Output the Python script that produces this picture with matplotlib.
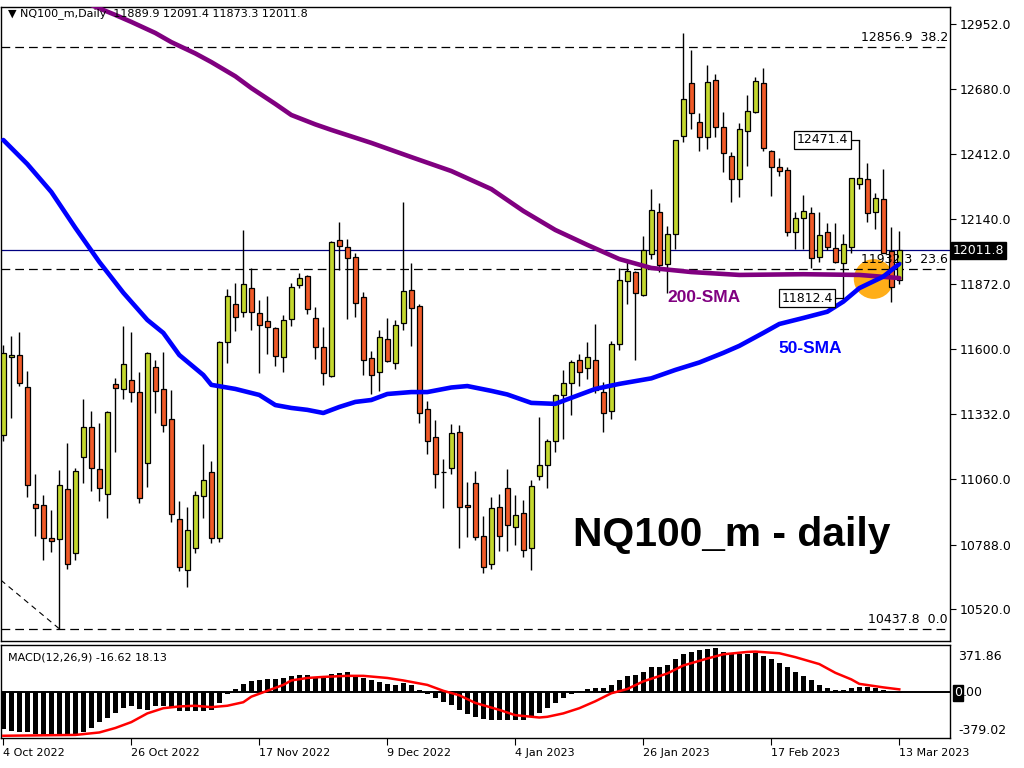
import matplotlib
matplotlib.use('Agg')
import matplotlib.pyplot as plt
from matplotlib.transforms import blended_transform_factory

W, H = 1024, 768

# daily OHLC, 4 Oct 2022 .. 13 Mar 2023 (one entry per bar)
opens = [11244, 11567, 11576, 11442, 10957, 10951, 10814, 10810, 11018, 10752,
         11151, 11276, 11101, 10997, 11454, 11434, 11471, 11422, 11126, 11525,
         11434, 11309, 10896, 10681, 10773, 10989, 11089, 10814, 11629, 11787,
         11754, 11854, 11750, 11716, 11687, 11567, 11725, 11866, 11903, 11729,
         11608, 11490, 12053, 12024, 11982, 11816, 11565, 11507, 11642, 11542,
         11708, 11845, 11779, 11351, 11234, 11089, 11105, 11255, 10954, 11043,
         10822, 10706, 10944, 11025, 10862, 10920, 10773, 11075, 11117, 11218,
         11408, 11459, 11557, 11520, 11555, 11423, 11345, 11622, 11885, 11921,
         11827, 11998, 12170, 11953, 12078, 12488, 12706, 12546, 12484, 12719,
         12523, 12404, 12307, 12509, 12585, 12706, 12424, 12357, 12345, 12089,
         12145, 12165, 11982, 12086, 12020, 11957, 12024, 12286, 12307, 12169,
         12224, 12007, 11889.9]
highs = [11618, 11655, 11671, 11510, 11082, 10994, 10932, 11098, 11209, 11107,
         11392, 11345, 11292, 11345, 11479, 11697, 11671, 11504, 11590, 11554,
         11588, 11431, 10969, 10944, 11009, 11206, 11136, 11635, 11851, 11874,
         12096, 11937, 11805, 11822, 11693, 11743, 11874, 11917, 11909, 11776,
         11693, 12050, 12128, 12058, 11999, 11837, 11593, 11680, 11730, 11720,
         12214, 11959, 11787, 11385, 11306, 11144, 11289, 11285, 11048, 11092,
         10907, 10986, 11000, 11102, 10993, 10974, 11055, 11318, 11226, 11416,
         11512, 11557, 11582, 11631, 11706, 11464, 11634, 11938, 11968, 11927,
         12069, 12265, 12210, 12114, 12472, 12915, 12844, 12581, 12782, 12743,
         12585, 12419, 12539, 12657, 12731, 12768, 12430, 12394, 12359, 12169,
         12241, 12193, 12169, 12124, 12124, 12078, 12311, 12471.4, 12376, 12251,
         12348, 12108, 12091.4]
lows = [11220, 11313, 11449, 10987, 10825, 10723, 10759, 10437.8, 10685, 10724,
        11043, 11012, 10971, 10900, 11174, 11395, 11382, 10960, 11029, 11336,
        11257, 10881, 10680, 10611, 10754, 10900, 10793, 10800, 11544, 11677,
        11735, 11682, 11503, 11582, 11532, 11507, 11698, 11856, 11748, 11561,
        11453, 11485, 11931, 11727, 11735, 11493, 11414, 11427, 11548, 11519,
        11682, 11615, 11295, 11166, 11025, 10939, 11080, 10773, 10818, 10807,
        10669, 10688, 10763, 10763, 10788, 10736, 10681, 11055, 11025, 11174,
        11226, 11325, 11449, 11475, 11419, 11256, 11312, 11597, 11787, 11557,
        11823, 11976, 11921, 11832, 12016, 12463, 12517, 12424, 12433, 12484,
        12336, 12211, 12234, 12363, 12581, 12425, 12238, 12322, 12072, 12017,
        12017, 11937, 11963, 12013, 11957, 11812.4, 11999, 12266, 12130, 12100,
        11999, 11797, 11873.3]
closes = [11583, 11576, 11459, 11035, 10939, 10814, 10802, 11035, 10706, 11093,
          11278, 11105, 11022, 11339, 11438, 11538, 11421, 10981, 11583, 11427,
          11284, 10915, 10696, 10848, 10993, 11055, 10814, 11629, 11822, 11733,
          11870, 11754, 11700, 11691, 11571, 11720, 11858, 11895, 11766, 11608,
          11500, 12045, 12028, 11978, 11791, 11554, 11492, 11650, 11553, 11700,
          11841, 11773, 11334, 11217, 11080, 11088, 11251, 10943, 10944, 10818,
          10695, 10941, 10822, 10870, 10910, 10766, 11033, 11117, 11218, 11408,
          11459, 11545, 11505, 11568, 11431, 11337, 11622, 11886, 11927, 11832,
          12013, 12177, 11950, 12078, 12468, 12639, 12581, 12481, 12710, 12525,
          12417, 12307, 12515, 12591, 12715, 12436, 12357, 12342, 12089, 12145,
          12175, 11978, 12075, 12024, 11964, 12036, 12311, 12311, 12165, 12228,
          12002, 11860, 12011.8]

# moving averages (bar index, value)
sma50_bars = [0, 3, 6, 9, 12, 15, 18, 20, 22, 25, 26, 29, 32, 34, 36, 38, 40, 42,
              44, 46, 48, 51, 53, 56, 58, 61, 63, 66, 69, 71, 74, 77, 81, 84, 87,
              90, 92, 95, 97, 100, 103, 105, 107, 110, 112]
sma50_vals = [12470, 12370, 12254, 12105, 11963, 11835, 11722, 11668, 11576, 11493,
              11452, 11435, 11410, 11368, 11356, 11348, 11335, 11360, 11381, 11389,
              11414, 11422, 11422, 11441, 11447, 11427, 11412, 11377, 11373, 11398,
              11435, 11456, 11479, 11514, 11545, 11585, 11614, 11668, 11705, 11730,
              11756, 11798, 11854, 11902, 11955]
sma200_bars = [9, 11, 14, 16, 19, 21, 24, 26, 29, 31, 34, 36, 39, 41, 46, 51, 56,
               61, 65, 69, 73, 77, 81, 86, 92, 100, 107, 112]
sma200_vals = [13080, 13031, 12990, 12961, 12915, 12877, 12830, 12794, 12735, 12686,
               12620, 12574, 12535, 12512, 12458, 12399, 12341, 12266, 12175, 12096,
               12034, 11975, 11938, 11921, 11909, 11912, 11909, 11896]

# MACD(12,26,9): main line drawn as histogram, signal as red line
macd_hist = [-318, -333, -342, -348, -363, -372, -379, -379.02, -376, -369,
             -348, -309, -260, -221, -179, -144, -127, -147, -156, -127,
             -121, -142, -162, -165, -162, -165, -156, -97, -23, 21,
             65, 86, 100, 103, 103, 116, 133, 144, 144, 124,
             133, 151, 156, 162, 144, 116, 95, 79, 62, 56,
             70, 51, 14, -18, -53, -91, -112, -156, -191, -216,
             -233, -239, -239, -239, -244, -239, -209, -179, -142, -97,
             -53, -18, 6, 21, 26, 26, 56, 95, 133, 139,
             168, 204, 212, 227, 272, 321, 339, 351, 360, 371.86,
             339, 321, 321, 321, 330, 300, 272, 242, 204, 168,
             133, 95, 56, 26, 14, 14, 26, 35, 35, 26,
             14, -9, -16.62]
signal_bars = [0, 9, 12, 14, 16, 18, 20, 22, 24, 26, 28, 30, 31, 33, 35, 36, 38, 40,
               43, 45, 48, 50, 53, 55, 57, 59, 62, 64, 67, 68, 70, 72, 74, 76, 78,
               80, 83, 85, 88, 90, 93, 94, 97, 99, 102, 104, 106, 107, 110, 112]
signal_vals = [-376, -369, -348, -310, -260, -186, -142, -127, -121, -133, -121, -91,
               -44, 6, 56, 94, 115, 124, 133, 133, 115, 94, 56, 6, -32, -97, -156,
               -201, -221, -215, -186, -142, -83, -15, 21, 86, 153, 221, 280, 316,
               336, 339, 325, 292, 233, 159, 103, 65, 35, 18.13]

date_ticks = [0, 16, 32, 48, 64, 80, 96, 112]
date_labels = ['4 Oct 2022', '26 Oct 2022', '17 Nov 2022', '9 Dec 2022',
               '4 Jan 2023', '26 Jan 2023', '17 Feb 2023', '13 Mar 2023']
price_ticks = [10520, 10788, 11060, 11332, 11600, 11872, 12140, 12412, 12680, 12952]

fib_levels = [12856.9, 11932.3, 10437.8]
fib_labels = ['12856.9  38.2', '11932.3  23.6', '10437.8  0.0']
fib_trend_x = [-0.3, 7]
fib_trend_y = [10640, 10437.8]

last_price = 12011.8
swing_high = (107, 12471.4)
swing_low = (105, 11812.4)
cross_point = (108.8, 11892)

BULL = '#C4D82E'
BEAR = '#F05A28'

fig = plt.figure(figsize=(W / 100, H / 100), dpi=100)
fig.patch.set_facecolor('white')
ax = fig.add_axes([1 / W, 1 - 641 / H, 949 / W, 634 / H])
ax2 = fig.add_axes([1 / W, 1 - 738 / H, 949 / W, 93 / H])

xlim = (-0.29, 118.34)

# --- price pane -------------------------------------------------------------
idx = list(range(len(opens)))
bottoms = [min(o, c) for o, c in zip(opens, closes)]
heights = [max(abs(c - o), 3) for o, c in zip(opens, closes)]
colors = [BULL if c >= o else BEAR for o, c in zip(opens, closes)]

ax.scatter([cross_point[0]], [cross_point[1]], s=820, color='#FFA500', alpha=0.9,
           edgecolors='none', zorder=1)
for lvl in fib_levels:
    ax.axhline(lvl, color='black', lw=0.9, dashes=(7, 4), zorder=2)
ax.plot(fib_trend_x, fib_trend_y, color='black', lw=0.8, dashes=(5, 4), zorder=2)
ax.axhline(last_price, color='#000080', lw=0.9, zorder=2)

ax.vlines(idx, lows, highs, color='black', lw=1.0, zorder=3)
ax.bar(idx, heights, bottom=bottoms, width=0.62, color=colors,
       edgecolor='black', linewidth=0.9, zorder=4)

ax.plot(sma200_bars, sma200_vals, color='#800080', lw=3.3, zorder=5,
        solid_capstyle='round', solid_joinstyle='round')
ax.plot(sma50_bars, sma50_vals, color='#0000FF', lw=3.3, zorder=6,
        solid_capstyle='round', solid_joinstyle='round')

ax.set_xlim(*xlim)
ax.set_ylim(10387, 13023)
ax.tick_params(axis='x', bottom=False, labelbottom=False)
ax.yaxis.tick_right()
ax.set_yticks(price_ticks)
ax.set_yticklabels([f'{p:.1f}' for p in price_ticks])
ax.tick_params(axis='y', direction='out', length=4, width=0.8, pad=3,
               labelsize=9, colors='black')
for s in ax.spines.values():
    s.set_color('black')
    s.set_linewidth(1)

bt = blended_transform_factory(ax.transAxes, ax.transData)
for lvl, lab in zip(fib_levels, fib_labels):
    ax.text(0.998, lvl + 12, lab, transform=bt, ha='right', va='bottom',
            fontsize=9, color='black', zorder=7)

ax.text(1.003, last_price, f'{last_price:.1f}', transform=bt, ha='left',
        va='center', fontsize=9, color='white', zorder=8, clip_on=False,
        bbox=dict(boxstyle='square,pad=0.15', fc='black', ec='black'))

# swing labels
ax.plot([swing_high[0] - 1.3, swing_high[0]], [swing_high[1]] * 2,
        color='black', lw=0.9, zorder=7)
ax.text(swing_high[0] - 1.4, swing_high[1], f'{swing_high[1]:.1f}', ha='right',
        va='center', fontsize=9, zorder=8,
        bbox=dict(boxstyle='square,pad=0.2', fc='white', ec='black', lw=0.9))
ax.plot([swing_low[0] - 1.2, swing_low[0]], [swing_low[1]] * 2,
        color='black', lw=0.9, zorder=7)
ax.text(swing_low[0] - 1.3, swing_low[1], f'{swing_low[1]:.1f}', ha='right',
        va='center', fontsize=9, zorder=8,
        bbox=dict(boxstyle='square,pad=0.2', fc='white', ec='black', lw=0.9))

ax.text(83.0, 11815, '200-SMA', color='#800080', fontsize=12.5,
        fontweight='bold', family='Liberation Sans', va='center', zorder=8)
ax.text(96.9, 11605, '50-SMA', color='#0000FF', fontsize=12.5,
        fontweight='bold', family='Liberation Sans', va='center', zorder=8)
ax.text(71.2, 10780, 'NQ100_m - daily', color='black', fontsize=29.3,
        fontweight='bold', family='Liberation Sans', va='baseline', zorder=8)

fig.text(8 / W, 1 - 14 / H, '\u25BC NQ100_m,Daily  11889.9 12091.4 11873.3 12011.8',
         fontsize=8, color='#000000', va='center', ha='left')

# --- MACD pane --------------------------------------------------------------
ax2.bar(idx, macd_hist, width=0.62, color='black', zorder=2)
ax2.axhline(0, color='black', lw=1.4, zorder=3)
ax2.plot(signal_bars, signal_vals, color='#FF0000', lw=1.8, zorder=4)
ax2.set_xlim(*xlim)
ax2.set_ylim(-395, 395)
ax2.set_yticks([])
ax2.set_xticks(date_ticks)
ax2.set_xticklabels(date_labels, ha='left')
ax2.tick_params(axis='x', direction='out', length=5, width=0.8, pad=2,
                labelsize=8, colors='black')
for s in ax2.spines.values():
    s.set_color('black')
    s.set_linewidth(1)

fig.text(8 / W, 1 - 657 / H, 'MACD(12,26,9) -16.62 18.13', fontsize=8,
         va='center', ha='left')
fig.text(958 / W, 1 - 656 / H, '371.86', fontsize=9, va='center', ha='left')
fig.text(958 / W, 1 - 731 / H, '-379.02', fontsize=9, va='center', ha='left')
fig.text(954 / W, 1 - 693 / H, '0', fontsize=9, va='center', ha='left', color='white',
         bbox=dict(boxstyle='square,pad=0.1', fc='black', ec='black'))
fig.text(963 / W, 1 - 693 / H, '.00', fontsize=9, va='center', ha='left')

fig.savefig('out.png', dpi=100)
